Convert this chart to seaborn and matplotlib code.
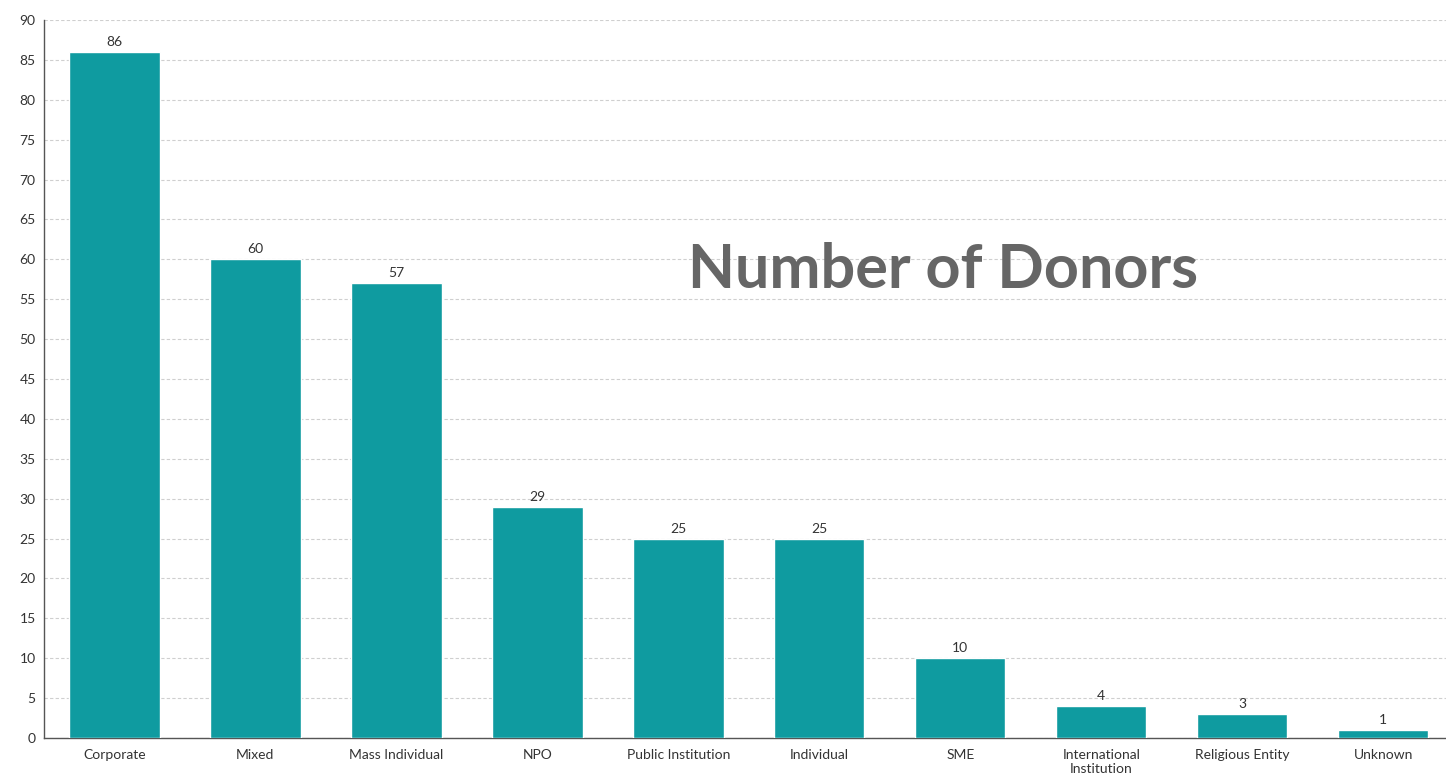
import matplotlib
matplotlib.use("Agg")
import matplotlib.pyplot as plt
import seaborn as sns
import pandas as pd

categories = ["Corporate", "Mixed", "Mass Individual", "NPO", "Public Institution",
              "Individual", "SME", "International\nInstitution", "Religious Entity", "Unknown"]
donors = [86, 60, 57, 29, 25, 25, 10, 4, 3, 1]
y_ticks = list(range(0, 91, 5))

sns.set_theme(style="white")
plt.rcParams["font.family"] = ["Lato", "DejaVu Sans"]

df = pd.DataFrame({"category": categories, "donors": donors})

fig = plt.figure(figsize=(14.46, 7.78), dpi=100)
ax = fig.add_axes([0.0304, 0.0514, 0.975, 0.9229])

sns.barplot(data=df, x="category", y="donors", color="#0f9ba0", saturation=1,
            width=0.64, ax=ax, zorder=3)

for p, v in zip(ax.patches, donors):
    ax.text(p.get_x() + p.get_width() / 2, v + 0.5, f"{v}", ha="center", va="bottom",
            fontsize=10, color="#333333")

ax.set_ylim(0, 90)
ax.set_xlim(-0.5, 9.5)
ax.set_yticks(y_ticks)
ax.yaxis.grid(True, linestyle=(0, (3, 2)), color="#cfcfcf", linewidth=0.8, zorder=0)
ax.set_axisbelow(True)
ax.tick_params(axis="x", length=0, labelsize=10, colors="#333333", pad=8)
ax.tick_params(axis="y", length=0, labelsize=10, colors="#333333", pad=6)
ax.set_xlabel("")
ax.set_ylabel("")
for side in ["top", "right"]:
    ax.spines[side].set_visible(False)
for side in ["left", "bottom"]:
    ax.spines[side].set_color("#555555")
    ax.spines[side].set_linewidth(1.0)

ax.text(0.6376, 0.652, "Number of Donors", transform=ax.transAxes, ha="center", va="center",
        fontsize=44, fontweight="bold", color="#666666")

fig.savefig("out.png", dpi=100)
